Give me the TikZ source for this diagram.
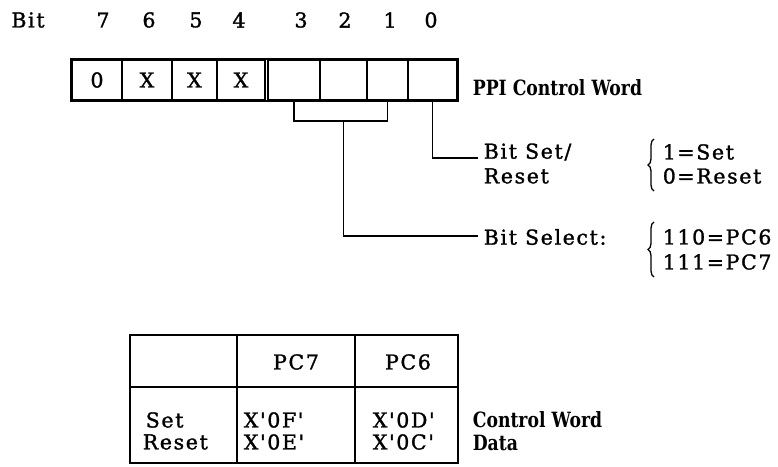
\documentclass[tikz,border=0pt]{standalone}
\usepackage{fontspec}
\usetikzlibrary{decorations.pathreplacing}
\newfontfamily\lblfont{DejaVu Serif}[LetterSpace=8,FakeBold=1.4]
\newfontfamily\boldfont{DejaVu Serif}[UprightFont=*,BoldFeatures={FakeStretch=0.82}]
\begin{document}
\begin{tikzpicture}[x=1pt,y=-1pt,line width=1.6pt,
  lbl/.style={font=\lblfont\fontsize{20.5}{22}\selectfont,inner sep=0pt},
  lw/.style={lbl,anchor=west},
  hd/.style={font=\boldfont\bfseries\fontsize{21}{22}\selectfont,inner sep=0pt,anchor=west},
  cell/.style={draw,minimum height=40pt,inner sep=0pt,font=\lblfont\fontsize{20.5}{22}\selectfont},
  tcell/.style={draw,inner sep=0pt},
  brc/.style={decorate,decoration={brace,amplitude=6pt},line width=1.3pt}]
\useasboundingbox (0,0) rectangle (778,466);
% bit numbers
\node[lbl] (bit) at (28,20) {Bit};
\node[lbl] (b7) at (103,20) {7};
\node[lbl] (b6) at (149,20) {6};
\node[lbl] (b5) at (196,20) {5};
\node[lbl] (b4) at (239,20) {4};
\node[lbl] (b3) at (301,20) {3};
\node[lbl] (b2) at (345,20) {2};
\node[lbl] (b1) at (390,20) {1};
\node[lbl] (b0) at (431,20) {0};
% register cells
\node[cell,minimum width=50pt] (c7) at (97,80) {0};
\node[cell,minimum width=50pt] (c6) at (147,80) {X};
\node[cell,minimum width=45pt] (c5) at (194.5,80) {X};
\node[cell,minimum width=48pt] (c4) at (241,80) {X};
\node[cell,minimum width=52pt] (c3) at (294,80) {};
\node[cell,minimum width=47pt] (c2) at (343.5,80) {};
\node[cell,minimum width=41pt] (c1) at (387.5,80) {};
\node[cell,minimum width=49pt] (c0) at (432.5,80) {};
\draw (c7.north west) rectangle (c0.south east);
\node[hd] (ppi) at (472,88) {PPI Control Word};
% bit set/reset
\coordinate (s0) at (478,158);
\draw (c0.south) |- (s0);
\node[lw] (bs1) at (483,152) {Bit Set/};
\node[lw] (bs2) at (483,176) {Reset};
\coordinate (br1b) at (654,191);
\coordinate (br1t) at (654,139);
\draw[brc] (br1b) -- (br1t);
\node[lw] (v1) at (662,152) {1=Set};
\node[lw] (v0) at (662,176) {0=Reset};
% bit select
\draw (c3.south) -- ++(0,20) -| (c1.south);
\coordinate (bm) at (343.5,121);
\coordinate (sel) at (478,236);
\draw (bm) |- (sel);
\node[lw] (bsel) at (483,237) {Bit Select:};
\coordinate (br2b) at (654,277);
\coordinate (br2t) at (654,222);
\draw[brc] (br2b) -- (br2t);
\node[lw] (p6) at (662,237) {110=PC6};
\node[lw] (p7) at (662,262) {111=PC7};
% table
\node[tcell,minimum width=107pt,minimum height=52pt] (h0) at (183.5,361) {};
\node[tcell,minimum width=118pt,minimum height=52pt] (h1) at (296,361) {};
\node[tcell,minimum width=103pt,minimum height=52pt] (h2) at (406.5,361) {};
\node[tcell,minimum width=107pt,minimum height=76pt] (r0) at (183.5,425) {};
\node[tcell,minimum width=118pt,minimum height=76pt] (r1) at (296,425) {};
\node[tcell,minimum width=103pt,minimum height=76pt] (r2) at (406.5,425) {};
\node[lbl] (tpc7) at (296,362) {PC7};
\node[lbl] (tpc6) at (408,362) {PC6};
\node[lw] (tset) at (145,420) {Set};
\node[lw] (treset) at (142,442) {Reset};
\node[lw] (x0f) at (243,420) {X'0F'};
\node[lw] (x0e) at (243,442) {X'0E'};
\node[lw] (x0d) at (372,420) {X'0D'};
\node[lw] (x0c) at (372,442) {X'0C'};
\node[hd] (cw) at (472,420) {Control Word};
\node[hd] (cwd) at (472,443) {Data};
\end{tikzpicture}
\end{document}
